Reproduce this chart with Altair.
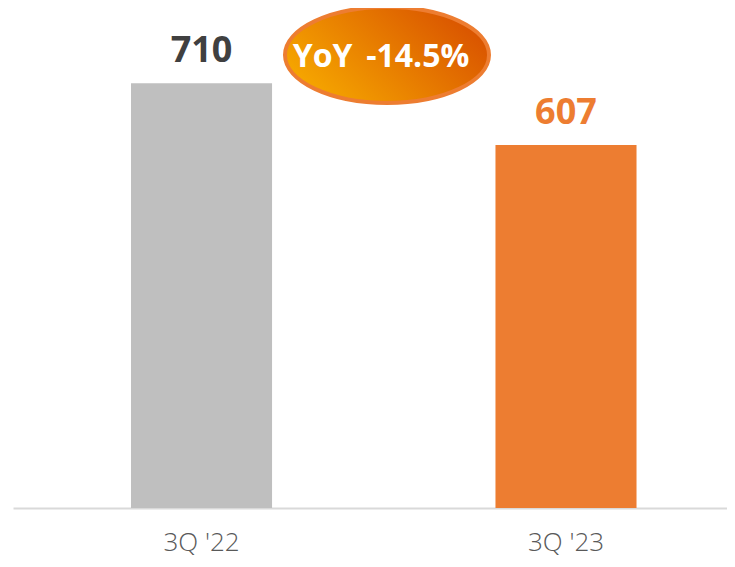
import altair as alt
import pandas as pd

categories = ["3Q '22", "3Q '23"]
values = [710, 607]
bar_colors = ["#BFBFBF", "#ED7D31"]
label_colors = ["#404040", "#ED7D31"]
badge_text = ["YoY \u2009-14.5%"]

df = pd.DataFrame({"period": categories, "value": values})
badge = pd.DataFrame({"text": badge_text})

x = alt.X(
    "period:N",
    sort=categories,
    scale=alt.Scale(paddingInner=0.613, paddingOuter=0.286, align=0.566, round=False),
    axis=alt.Axis(
        title=None, labelAngle=0, ticks=False, domainColor="#D9D9D9", domainWidth=2,
        labelFont="Open Sans", labelFontSize=26, labelColor="#595959", labelFontWeight=300,
        labelBaseline="middle", labelPadding=34,
    ),
)
y = alt.Y("value:Q", scale=alt.Scale(domain=[0, 836], nice=False), axis=None)

bars = alt.Chart(df).mark_bar().encode(
    x=x, y=y,
    color=alt.Color("period:N", scale=alt.Scale(domain=categories, range=bar_colors), legend=None),
)

labels = alt.Chart(df).mark_text(
    font="Open Sans", fontSize=36, fontWeight="bold", baseline="alphabetic", dy=-21
).encode(
    x=x, y=y, text=alt.Text("value:Q"),
    color=alt.Color("period:N", scale=alt.Scale(domain=categories, range=label_colors), legend=None),
)

ellipse_path = "M -1 0 A 1 0.47 0 1 1 1 0 A 1 0.47 0 1 1 -1 0 Z"
grad = alt.Gradient(
    gradient="linear",
    stops=[alt.GradientStop(color="#F7AA00", offset=0), alt.GradientStop(color="#D85000", offset=1)],
    x1=0, y1=0.75, x2=1, y2=0.25,
)
badge_shape = alt.Chart(badge).mark_point(
    shape=ellipse_path, size=41616, fill=grad, fillOpacity=1, opacity=1,
    stroke="#ED7D31", strokeWidth=4, filled=True,
).encode(x=alt.value(374), y=alt.value(47))

badge_label = alt.Chart(badge).mark_text(
    font="Open Sans", fontSize=32, fontWeight="bold", color="white", baseline="middle"
).encode(x=alt.value(368), y=alt.value(49), text="text:N")

chart = alt.layer(bars, labels, badge_shape, badge_label).resolve_scale(
    color="independent"
).properties(
    width=714, height=500,
    autosize=alt.AutoSizeParams(type="none"),
    padding={"left": 5, "top": 0, "right": 0, "bottom": 51},
).configure_view(stroke=None)

chart.save("out.html", embed_options={"renderer": "svg", "actions": False})
